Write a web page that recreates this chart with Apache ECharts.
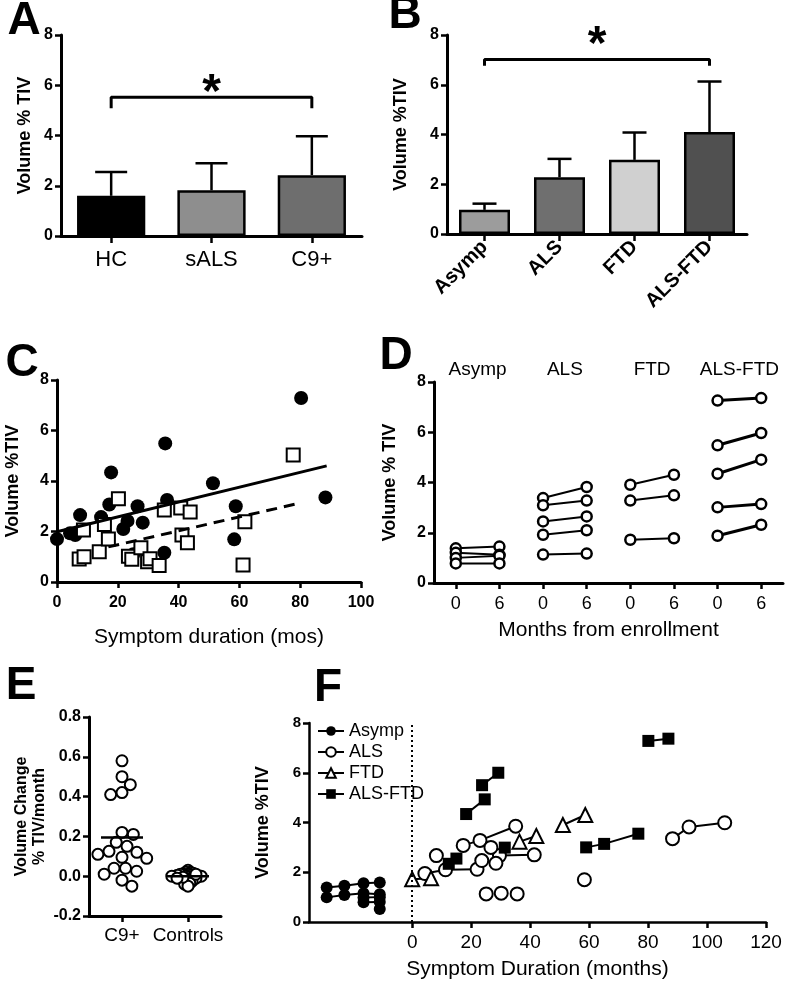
<!DOCTYPE html>
<html><head><meta charset="utf-8">
<script src="https://cdn.jsdelivr.net/npm/echarts@6/dist/echarts.min.js"></script>
<style>html,body{margin:0;padding:0;background:#fff}#c{width:790px;height:984px}</style>
</head><body><div id="c"></div>
<script>
// ---------------- DATA ----------------
// Panel A
const aCategories = ['HC', 'sALS', 'C9+'];
const aMeans = [1.6, 1.82, 2.42];
const aSD = [0.95, 1.08, 1.55];
const aBracket = [5.08, 5.52];
// Panel B
const bCategories = ['Asymp', 'ALS', 'FTD', 'ALS-FTD'];
const bMeans = [0.97, 2.28, 2.98, 4.1];
const bSD = [0.25, 0.74, 1.1, 2.03];
const bBracket = [6.76, 7.02];
// Panel C  [symptom duration (mos), volume %TIV]
const cFilled = [[0,1.70],[4.3,1.93],[6,1.86],[7.6,2.65],[14.5,2.57],[17.2,3.07],[17.8,4.34],[21.8,2.1],[23.2,2.42],[25.1,1.1],[26.5,3.0],[28.2,2.35],[35.6,5.49],[36.2,3.25],[35.3,1.16],[51.3,3.91],[58.8,3.0],[58.3,1.69],[80.3,7.29],[88.3,3.35]];
const cOpen = [[7.3,0.91],[8.9,1.0],[8.7,2.06],[13.9,1.2],[15.6,2.28],[16.9,1.7],[20.2,3.3],[23.5,1.02],[24.6,0.9],[27.6,1.36],[29.8,0.8],[30.6,0.92],[33.6,0.65],[35.3,2.85],[40.7,2.93],[43.8,2.77],[41.1,1.86],[42.9,1.55],[61.8,2.39],[61.2,0.67],[77.7,5.03]];
const cFitSolid = [[0,1.99],[88.7,4.6]];
const cFitDashed = [[16.9,1.39],[78.3,3.08]];
// Panel D  [month 0, month 6]
const dGroups = ['Asymp', 'ALS', 'FTD', 'ALS-FTD'];
const dTimeLabels = ['0', '6'];
const dAsymp = [[1.38,1.45],[1.2,1.12],[1.0,1.08],[0.78,0.78]];
const dALS = [[3.38,3.82],[3.09,3.28],[2.45,2.65],[1.92,2.1],[1.13,1.17]];
const dFTD = [[3.91,4.31],[3.28,3.49],[1.72,1.78]];
const dALSFTD = [[7.26,7.36],[5.48,5.97],[4.35,4.91],[3.01,3.14],[1.88,2.32]];
// Panel E
const eCategories = ['C9+', 'Controls'];
const eC9 = [0.58,0.50,0.46,0.41,0.42,0.22,0.21,0.17,0.15,0.125,0.11,0.12,0.09,0.095,0.04,0.04,0.01,0.025,-0.05,-0.02];
const eControls = [0.03,0.02,0.02,0.015,0.01,0.01,0.01,0.005,0.0,0.0,0.0,0.0,0.0,-0.005,-0.01,-0.01,-0.01,-0.015,-0.02,-0.02,-0.025,-0.03,-0.035,-0.04,-0.05,0.005,-0.005,0.01,0.0,-0.01];
const eMeans = [0.195, 0.0];
// Panel F  segments of [symptom duration (months), volume %TIV]
const fAsymp = [
  [[-29,1.39],[-23,1.46],[-16.5,1.56],[-11,1.59]],
  [[-29,0.99],[-23,1.09],[-16.5,1.16],[-11,1.12]],
  [[-16.5,0.98],[-11,1.0]],
  [[-16.5,0.79],[-11,0.8]],
  [[-11,0.52]]
];
const fALS = [
  [[4.3,1.95],[11.3,2.1],[22,2.12]],
  [[17.3,3.08],[23,3.28],[35.1,3.85]],
  [[29.6,2.67],[41.4,2.7]],
  [[23.6,2.47],[28.4,2.36]],
  [[8.2,2.67]], [[26.7,3.0]], [[25.1,1.13]], [[30.2,1.16]], [[35.6,1.13]], [[58.4,1.7]],
  [[88.3,3.35],[93.9,3.82],[106,3.99]]
];
const fFTD = [
  [[0,1.72],[6.4,1.76]],
  [[36.4,3.23],[42.1,3.46]],
  [[51.1,3.9],[58.7,4.3]]
];
const fALSFTD = [
  [[18.3,4.34],[24.6,4.93]],
  [[23.7,5.5],[29.2,6.0]],
  [[12.4,2.34],[15,2.55]],
  [[31.4,2.99]],
  [[59,3.0],[65.1,3.14],[76.7,3.55]],
  [[80.1,7.28],[86.9,7.37]]
];
const fSeriesNames = ['Asymp', 'ALS', 'FTD', 'ALS-FTD'];

// ---------------- STYLES ----------------
const FONT = "'Liberation Sans', Arial, Helvetica, sans-serif";
const K = '#000';
const aColors = ['#000000', '#8e8e8e', '#6e6e6e'];
const bColors = ['#9c9c9c', '#6f6f6f', '#d0d0d0', '#505050'];

function axLine(w) { return { show: true, onZero: false, lineStyle: { color: K, width: w } }; }
function axTick(len, extra) { return Object.assign({ show: true, length: len, lineStyle: { color: K, width: 2.5 } }, extra || {}); }
function yAx(gi, name, gap, extra) {
  return Object.assign({
    type: 'value', gridIndex: gi, min: 0, max: 8, interval: 2,
    axisLine: axLine(3), axisTick: axTick(6),
    axisLabel: { color: K, fontSize: 16, fontWeight: 'bold', margin: 8, fontFamily: FONT },
    splitLine: { show: false },
    name: name, nameLocation: 'middle', nameGap: gap,
    nameTextStyle: { color: K, fontSize: 18, fontWeight: 'bold', fontFamily: FONT }
  }, extra || {});
}

// simple beeswarm layout in pixel space
function swarm(values, center, pxPerX, pxPerY, d) {
  const placed = [];
  const order = values.map((v, i) => i).sort((a, b) => values[b] - values[a]);
  const out = new Array(values.length);
  for (const i of order) {
    const y = values[i] * pxPerY;
    const cands = [0];
    for (const p of placed) {
      const dy = Math.abs(p.y - y);
      if (dy < d) { const dx = Math.sqrt(d * d - dy * dy); cands.push(p.x + dx + 0.01, p.x - dx - 0.01); }
    }
    cands.sort((a, b) => Math.abs(a) - Math.abs(b));
    let x = 0;
    for (const c of cands) {
      if (placed.every(p => (p.x - c) ** 2 + (p.y - y) ** 2 >= d * d - 0.1)) { x = c; break; }
    }
    placed.push({ x: x, y: y });
    out[i] = [center + x / pxPerX, values[i]];
  }
  return out;
}

function errorBars(xi, yi, means, sds, capHalf) {
  return {
    type: 'custom', xAxisIndex: xi, yAxisIndex: yi, z: 3,
    data: means.map((m, i) => [i, m, sds[i]]),
    renderItem: function (params, api) {
      const x = api.value(0), m = api.value(1), s = api.value(2);
      const p0 = api.coord([x, m]), p1 = api.coord([x, m + s]);
      const st = { stroke: K, lineWidth: 2.5 };
      return { type: 'group', children: [
        { type: 'line', shape: { x1: p0[0], y1: p0[1], x2: p1[0], y2: p1[1] }, style: st },
        { type: 'line', shape: { x1: p1[0] - capHalf, y1: p1[1], x2: p1[0] + capHalf, y2: p1[1] }, style: st }
      ] };
    }
  };
}

function bracket(xi, yi, cats, br, offsetY, fs) {
  const a = cats[0], b = cats[cats.length - 1];
  return {
    type: 'line', xAxisIndex: xi, yAxisIndex: yi, symbol: 'none', z: 4,
    data: [[a, br[0]], [a, br[1]], [b, br[1]], [b, br[0]]],
    lineStyle: { color: K, width: 3 },
    markLine: {
      silent: true, symbol: 'none', lineStyle: { color: 'rgba(0,0,0,0)', width: 0 },
      label: { show: true, position: 'middle', formatter: '*', fontSize: fs, fontWeight: 'bold', color: K, fontFamily: FONT, distance: 0, offset: [0, offsetY] },
      data: [[{ coord: [a, br[1]] }, { coord: [b, br[1]] }]]
    }
  };
}

const series = [];
// A
series.push({ type: 'bar', xAxisIndex: 0, yAxisIndex: 0, barWidth: '68%',
  data: aMeans.map((v, i) => ({ value: v, itemStyle: { color: aColors[i] } })),
  itemStyle: { borderColor: K, borderWidth: 2.5 } });
series.push(errorBars(0, 0, aMeans, aSD, 16));
series.push(bracket(0, 0, aCategories, aBracket, 20, 48));
// B
series.push({ type: 'bar', xAxisIndex: 1, yAxisIndex: 1, barWidth: '68%',
  data: bMeans.map((v, i) => ({ value: v, itemStyle: { color: bColors[i] } })),
  itemStyle: { borderColor: K, borderWidth: 2.5 } });
series.push(errorBars(1, 1, bMeans, bSD, 12));
series.push(bracket(1, 1, bCategories, bBracket, 10, 48));
// C
series.push({ type: 'scatter', xAxisIndex: 2, yAxisIndex: 2, data: cFilled, symbol: 'circle', symbolSize: 14, itemStyle: { color: K, opacity: 1 } });
series.push({ type: 'line', xAxisIndex: 2, yAxisIndex: 2, data: cFitSolid, symbol: 'none', lineStyle: { color: K, width: 3 } });
series.push({ type: 'line', xAxisIndex: 2, yAxisIndex: 2, data: cFitDashed, symbol: 'none', lineStyle: { color: K, width: 3, type: [11, 7] } });
series.push({ type: 'scatter', xAxisIndex: 2, yAxisIndex: 2, data: cOpen, symbol: 'rect', symbolSize: 13, itemStyle: { color: '#fff', borderColor: K, borderWidth: 2, opacity: 1 } });
// D
[dAsymp, dALS, dFTD, dALSFTD].forEach((grp, g) => {
  grp.forEach(pair => {
    series.push({ type: 'line', xAxisIndex: 3, yAxisIndex: 3,
      data: pair.map((v, t) => [2 * g + t, v]),
      symbol: 'circle', symbolSize: 10,
      itemStyle: { color: '#fff', borderColor: K, borderWidth: 2.5 },
      lineStyle: { color: K, width: g === 3 ? 3 : 2 } });
  });
});
series.push({ type: 'scatter', xAxisIndex: 3, yAxisIndex: 3, clip: false, symbolSize: 0,
  data: dGroups.map((n, g) => [2 * g + 0.5, 8.5]),
  itemStyle: { opacity: 1, color: K },
  label: { show: true, position: 'inside', color: K, fontSize: 19, fontFamily: FONT,
    formatter: p => dGroups[Math.round(p.value[0] - 0.5) / 2] },
  markLine: { silent: true, symbol: 'none', label: { show: false },
    lineStyle: { color: '#888', width: 1, type: 'dotted' },
    data: [1, 3, 5].map(b => [{ coord: [b + 0.5, 0] }, { coord: [b + 0.5, 9.3] }]) } });
// E
series.push({ type: 'scatter', xAxisIndex: 4, yAxisIndex: 4, symbol: 'circle', symbolSize: 11,
  data: swarm(eC9, 0, 66, 199, 11.5), itemStyle: { color: '#fff', borderColor: K, borderWidth: 2, opacity: 1 } });
series.push({ type: 'scatter', xAxisIndex: 4, yAxisIndex: 4, symbol: 'circle', symbolSize: 11,
  data: swarm(eControls, 1, 66, 199, 3), itemStyle: { color: '#fff', borderColor: K, borderWidth: 2, opacity: 1 } });
series.push({ type: 'custom', xAxisIndex: 4, yAxisIndex: 4, z: 5,
  data: eMeans.map((m, i) => [i, m]),
  renderItem: function (params, api) {
    const p = api.coord([api.value(0), api.value(1)]);
    return { type: 'line', shape: { x1: p[0] - 21, y1: p[1], x2: p[0] + 21, y2: p[1] }, style: { stroke: K, lineWidth: 2.5 } };
  } });
// F
const fStyles = [
  { symbol: 'circle', symbolSize: 12, itemStyle: { color: K } },
  { symbol: 'circle', symbolSize: 13, itemStyle: { color: '#fff', borderColor: K, borderWidth: 2 } },
  { symbol: 'triangle', symbolSize: 14, itemStyle: { color: '#fff', borderColor: K, borderWidth: 2 } },
  { symbol: 'rect', symbolSize: 12, itemStyle: { color: K } }
];
[fAsymp, fALS, fFTD, fALSFTD].forEach((grp, g) => {
  grp.forEach((seg, si) => {
    const s = Object.assign({ type: 'line', name: fSeriesNames[g], xAxisIndex: 5, yAxisIndex: 5,
      data: seg, lineStyle: { color: K, width: 2 } }, fStyles[g]);
    if (g === 0 && si === 0) {
      s.markLine = { silent: true, symbol: 'none', label: { show: false },
        lineStyle: { color: K, width: 2, type: [2, 3] }, data: [{ xAxis: 0 }] };
    }
    series.push(s);
  });
});

const option = {
  animation: false,
  textStyle: { fontFamily: FONT },
  grid: [
    { left: 61, top: 35, width: 301, height: 201 },
    { left: 447, top: 35, width: 300, height: 199 },
    { left: 57, top: 380, width: 304, height: 202 },
    { left: 434, top: 382, width: 349, height: 201 },
    { left: 89, top: 717, width: 132, height: 199 },
    { left: 309, top: 723, width: 457, height: 199 }
  ],
  xAxis: [
    { type: 'category', gridIndex: 0, data: aCategories, axisLine: axLine(3), axisTick: axTick(7, { alignWithLabel: true }),
      axisLabel: { color: K, fontSize: 22, margin: 13, fontFamily: FONT } },
    { type: 'category', gridIndex: 1, data: bCategories, axisLine: axLine(3), axisTick: axTick(7, { alignWithLabel: true }),
      axisLabel: { color: K, fontSize: 20, fontWeight: 'bold', rotate: 45, margin: 10, fontFamily: FONT } },
    { type: 'value', gridIndex: 2, min: 0, max: 100, interval: 20, axisLine: axLine(3), axisTick: axTick(6), splitLine: { show: false },
      axisLabel: { color: K, fontSize: 16, fontWeight: 'bold', margin: 13, fontFamily: FONT },
      name: 'Symptom duration (mos)', nameLocation: 'middle', nameGap: 45, nameTextStyle: { color: K, fontSize: 21, fontFamily: FONT } },
    { type: 'value', gridIndex: 3, min: -0.5, max: 7.5, axisLine: axLine(3), splitLine: { show: false },
      axisTick: axTick(6, { customValues: [0, 1, 2, 3, 4, 5, 6, 7] }),
      axisLabel: { color: K, fontSize: 18, margin: 12, fontFamily: FONT, customValues: [0, 1, 2, 3, 4, 5, 6, 7], formatter: v => dTimeLabels[Math.round(v) % 2] },
      name: 'Months from enrollment', nameLocation: 'middle', nameGap: 37, nameTextStyle: { color: K, fontSize: 21, fontFamily: FONT } },
    { type: 'value', gridIndex: 4, min: -0.5, max: 1.5, axisLine: axLine(3), splitLine: { show: false },
      axisTick: axTick(6, { customValues: [0, 1] }),
      axisLabel: { color: K, fontSize: 19, margin: 10, fontFamily: FONT, customValues: [0, 1], formatter: v => eCategories[Math.round(v)] } },
    { type: 'value', gridIndex: 5, min: -35, max: 120, axisLine: axLine(2.5), splitLine: { show: false },
      axisTick: axTick(6, { customValues: [0, 20, 40, 60, 80, 100, 120] }),
      axisLabel: { color: K, fontSize: 19, margin: 11, fontFamily: FONT, customValues: [0, 20, 40, 60, 80, 100, 120] },
      name: 'Symptom Duration (months)', nameLocation: 'middle', nameGap: 37, nameTextStyle: { color: K, fontSize: 21, fontFamily: FONT } }
  ],
  yAxis: [
    yAx(0, 'Volume % TIV', 27),
    yAx(1, 'Volume %TIV', 37),
    yAx(2, 'Volume %TIV', 35),
    yAx(3, 'Volume % TIV', 35),
    yAx(4, 'Volume Change\n% TIV/month', 40, { min: -0.2, max: 0.8, interval: 0.2,
      axisLabel: { color: K, fontSize: 16, fontWeight: 'bold', margin: 8, fontFamily: FONT, formatter: v => v.toFixed(1) },
      nameTextStyle: { color: K, fontSize: 16, fontWeight: 'bold', fontFamily: FONT, lineHeight: 18, align: 'center' } }),
    yAx(5, 'Volume %TIV', 37, { axisLine: axLine(2.5), axisLabel: { color: K, fontSize: 15, fontWeight: 'bold', margin: 8, fontFamily: FONT } })
  ],
  legend: {
    data: fSeriesNames, orient: 'vertical', left: 312, top: 717, itemGap: 3, itemWidth: 26, itemHeight: 12,
    textStyle: { color: K, fontSize: 18, fontFamily: FONT }, selectedMode: false
  },
  graphic: [
    ['A', 24, 21], ['B', 405, 15], ['C', 22, 363], ['D', 396, 356], ['E', 21, 686], ['F', 328, 688]
  ].map(t => ({ type: 'text', x: t[1], y: t[2], style: { text: t[0], fill: K, fontSize: 46, fontWeight: 'bold', fontFamily: FONT, align: 'center', verticalAlign: 'middle' } })),
  series: series
};

const chart = echarts.init(document.getElementById('c'), null, { renderer: 'canvas' });
chart.setOption(option);
</script>
</body></html>
